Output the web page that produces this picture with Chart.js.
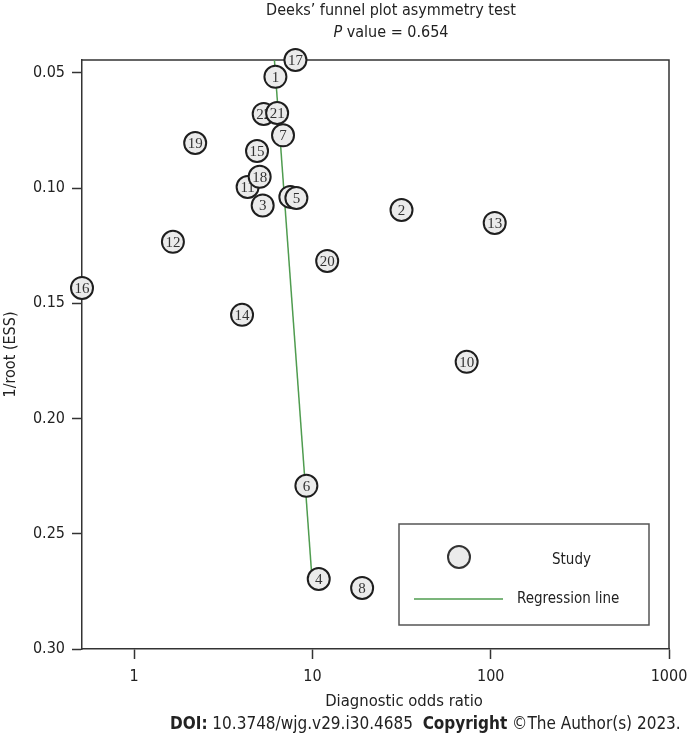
<!DOCTYPE html>
<html>
<head>
<meta charset="utf-8">
<script src="https://cdn.jsdelivr.net/npm/chart.js@4.4.0/dist/chart.umd.min.js"></script>
<style>
  html, body { margin: 0; padding: 0; background: #fff; }
  #wrap { position: relative; width: 687px; height: 734px; font-family: "DejaVu Sans Condensed", "DejaVu Sans", sans-serif; color: #222; overflow: hidden; }
  #chart { position: absolute; left: 0; top: 0; }
  .title { position: absolute; left: 191px; width: 400px; text-align: center; font-size: 16px; line-height: 18px; white-space: nowrap; }
  #xtitle { position: absolute; left: 204px; width: 400px; top: 692px; text-align: center; font-size: 16.5px; line-height: 18px; white-space: nowrap; }
  #doi { position: absolute; left: 170px; top: 714px; font-size: 17px; line-height: 18px; white-space: nowrap; }
</style>
</head>
<body>
<div id="wrap">
  <canvas id="chart" width="687" height="734"></canvas>
  <div class="title" style="top:1px">Deeks’ funnel plot asymmetry test</div>
  <div class="title" style="top:23px"><i>P</i> value = 0.654</div>
  <div id="xtitle">Diagnostic odds ratio</div>
  <div id="doi"><b>DOI:</b> 10.3748/wjg.v29.i30.4685&nbsp;&nbsp;<b>Copyright</b> ©The Author(s) 2023.</div>
</div>
<script>
// Studies listed bottom layer first (overlapping circles: 5 over 9, 18 over 11, 21 over 22)
const studies    = ['1', '2', '3', '4', '6', '7', '8', '9', '5', '10', '11', '12', '13', '14', '15', '16', '17', '18', '19', '20', '22', '21'];
const dor        = [6.20, 31.6, 5.26, 10.85, 9.25, 6.84, 19.0, 7.52, 8.13, 73.3, 4.33, 1.65, 105.3, 4.03, 4.89, 0.51, 8.03, 5.06, 2.20, 12.1, 5.33, 6.34];
const invRootEss = [0.0517, 0.1095, 0.1075, 0.2696, 0.2292, 0.0771, 0.2735, 0.1038, 0.1043, 0.1754, 0.0995, 0.1233, 0.1151, 0.1550, 0.0839, 0.1433, 0.0444, 0.0951, 0.0804, 0.1316, 0.0678, 0.0674];

// Regression line end points
const regDor = [6.12, 9.95];
const regY   = [0.0444, 0.2696];

const xTicks = [1, 10, 100, 1000];
const yTicks = [0.05, 0.10, 0.15, 0.20, 0.25, 0.30];

const FONT = '"DejaVu Sans Condensed", "DejaVu Sans", sans-serif';
const INK = '#222';
const AXIS = '#333';
const CIRCLE_FILL = '#ebebeb';
const CIRCLE_EDGE = '#1e1e1e';
const GREEN = '#4f9c4f';

const studyLabels = {
  id: 'studyLabels',
  afterDatasetDraw(chart, args) {
    const ds = chart.data.datasets[args.index];
    if (!ds.studyLabel) return;
    const pt = args.meta.data[0];
    const ctx = chart.ctx;
    ctx.save();
    ctx.font = '15px "Liberation Serif", serif';
    ctx.fillStyle = '#333';
    ctx.textAlign = 'center';
    ctx.textBaseline = 'middle';
    ctx.fillText(ds.studyLabel, pt.x, pt.y + 1);
    ctx.restore();
  }
};

const frame = {
  id: 'frame',
  beforeDatasetsDraw(chart) {
    const { ctx, chartArea: a } = chart;
    ctx.save();
    ctx.strokeStyle = AXIS;
    ctx.lineWidth = 1.5;
    ctx.beginPath();
    ctx.moveTo(a.left, a.top);
    ctx.lineTo(a.right, a.top);
    ctx.lineTo(a.right, a.bottom);
    ctx.stroke();
    ctx.restore();
  }
};

const boxLegend = {
  id: 'boxLegend',
  afterDraw(chart) {
    const { ctx, chartArea: a } = chart;
    const left = a.left + 317, top = a.bottom - 125, w = 250, h = 101;
    ctx.save();
    ctx.strokeStyle = '#555';
    ctx.lineWidth = 1.5;
    ctx.strokeRect(left, top, w, h);

    ctx.beginPath();
    ctx.arc(left + 60, top + 33, 11, 0, Math.PI * 2);
    ctx.fillStyle = CIRCLE_FILL;
    ctx.fill();
    ctx.lineWidth = 2;
    ctx.strokeStyle = '#333';
    ctx.stroke();

    ctx.beginPath();
    ctx.moveTo(left + 15, top + 75);
    ctx.lineTo(left + 104, top + 75);
    ctx.strokeStyle = GREEN;
    ctx.lineWidth = 1.5;
    ctx.stroke();

    ctx.fillStyle = INK;
    ctx.font = '15px ' + FONT;
    ctx.textBaseline = 'middle';
    ctx.fillText('Study', left + 153, top + 36);
    ctx.fillText('Regression line', left + 118, top + 75);
    ctx.restore();
  }
};

const studyDatasets = studies.map((s, i) => ({
  studyLabel: s,
  data: [{ x: dor[i], y: invRootEss[i] }],
  order: studies.length - i,
  pointStyle: 'circle',
  pointRadius: 11,
  pointBorderWidth: 2,
  pointBorderColor: CIRCLE_EDGE,
  pointBackgroundColor: CIRCLE_FILL,
  clip: false
}));

const regression = {
  label: 'Regression line',
  data: regDor.map((x, i) => ({ x, y: regY[i] })),
  showLine: true,
  borderColor: GREEN,
  borderWidth: 1.5,
  pointRadius: 0,
  order: 100
};

new Chart(document.getElementById('chart'), {
  type: 'scatter',
  data: { datasets: [regression, ...studyDatasets] },
  options: {
    responsive: false,
    animation: false,
    events: [],
    layout: { padding: { top: 60, right: 18, bottom: 0, left: 0 } },
    plugins: { legend: { display: false }, tooltip: { enabled: false } },
    scales: {
      x: {
        type: 'logarithmic',
        min: 0.51,
        max: 1000,
        afterBuildTicks: s => { s.ticks = xTicks.map(v => ({ value: v })); },
        afterFit: s => { s.height = 85; s.paddingLeft = 0; s.paddingRight = 0; },
        ticks: { callback: v => String(v), autoSkip: false, maxRotation: 0, padding: 8,
                 color: INK, font: { family: FONT, size: 16 } },
        grid: { drawOnChartArea: false, tickLength: 10, tickColor: AXIS, tickWidth: 1.5 },
        border: { color: AXIS, width: 1.5 }
      },
      y: {
        min: 0.0444,
        max: 0.30,
        reverse: true,
        afterBuildTicks: s => { s.ticks = yTicks.map(v => ({ value: v })); },
        afterFit: s => { s.width = 82; },
        ticks: { callback: v => v.toFixed(2), padding: 7, color: INK, font: { family: FONT, size: 16 } },
        grid: { drawOnChartArea: false, tickLength: 10, tickColor: AXIS, tickWidth: 1.5 },
        border: { color: AXIS, width: 1.5 },
        title: { display: true, text: '1/root (ESS)', color: INK,
                 font: { family: FONT, size: 16 }, padding: { top: 1, bottom: 0 } }
      }
    }
  },
  plugins: [frame, studyLabels, boxLegend]
});
</script>
</body>
</html>
